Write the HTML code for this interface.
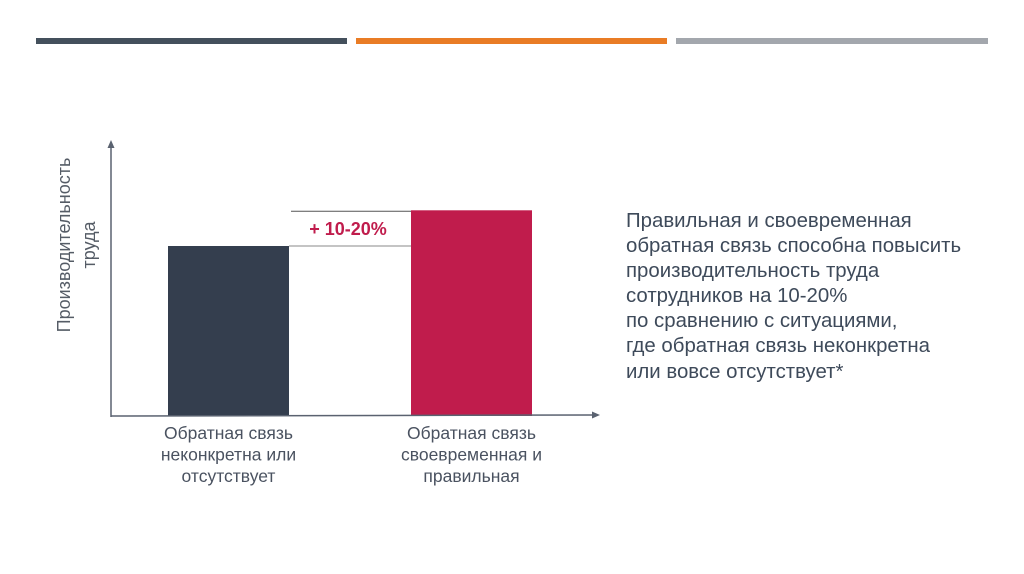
<!DOCTYPE html>
<html><head><meta charset="utf-8"><style>
body{margin:0;width:1024px;height:574px;background:#fff;overflow:hidden;font-family:"Liberation Sans",sans-serif;position:relative}
.stripe{position:absolute;top:38px;height:6px}
.side{position:absolute;left:626px;top:209px;font-size:20.4px;line-height:25.1px;color:#3e4a5a}
</style></head><body>
<div class="stripe" style="left:36px;width:311px;background:#44505c"></div>
<div class="stripe" style="left:356px;width:311px;background:#e97c25"></div>
<div class="stripe" style="left:676px;width:312px;background:#a3a7ad"></div>
<svg id="chart" width="1024" height="574" style="position:absolute;left:0;top:0">
<g id="marks"></g>
<text transform="translate(70,245) rotate(-90)" text-anchor="middle" font-size="18" fill="#555c66" font-family="Liberation Sans, sans-serif"><tspan x="0" dy="0">Производительность</tspan><tspan x="0" dy="25">труда</tspan></text>
</svg>
<div class="side">Правильная и своевременная<br>обратная связь способна повысить<br>производительность труда<br>сотрудников на 10-20%<br>по сравнению с ситуациями,<br>где обратная связь неконкретна<br>или вовсе отсутствует*</div>
<script>
const categories=["Обратная связь|неконкретна или|отсутствует","Обратная связь|своевременная и|правильная"];
const values=[100,121];
const colors=["#343e4e","#c01c4c"];
const NS="http://www.w3.org/2000/svg";
const g=document.getElementById('marks');
const base=416,pxPer=1.7,barW=121,starts=[168,411];
const y=v=>base-v*pxPer;
function el(t,a){const e=document.createElementNS(NS,t);for(const k in a)e.setAttribute(k,a[k]);g.appendChild(e);return e;}
values.forEach((v,i)=>{
 const r=el('rect',{x:starts[i],y:y(v),width:barW,height:v*pxPer,fill:colors[i]});
 
 
 const t=el('text',{x:starts[i]+barW/2,'text-anchor':'middle','font-size':17.5,fill:'#4a5260','font-family':'Liberation Sans, sans-serif'});
 
 
 categories[i].split('|').forEach((s,j)=>{const ts=document.createElementNS(NS,'tspan');ts.setAttribute('x',starts[i]+barW/2);ts.setAttribute('y',439+j*21.5);ts.textContent=s;t.appendChild(ts);});
});
const l1=el('line',{x1:291,x2:411,y1:y(values[1])+1,y2:y(values[1])+1,stroke:'#555',"stroke-width":1});


const l2=el('line',{x1:289,x2:411,y1:y(values[0]),y2:y(values[0]),stroke:'#888',"stroke-width":1});


const dt=el('text',{x:348,y:(y(values[0])+y(values[1]))/2+7,'text-anchor':'middle','font-size':18,'font-weight':'bold',fill:'#c01c4c','font-family':'Liberation Sans, sans-serif'});
dt.textContent='+ 10-20%';


const ya=el('line',{x1:111,x2:111,y1:146,y2:417,stroke:'#5a6270','stroke-width':1.5});


const yh=el('polygon',{points:'111,140 107.5,148 114.5,148',fill:'#5a6270'});


const xa=el('line',{x1:111,x2:593,y1:416,y2:415,stroke:'#5a6270','stroke-width':1.5});


const xh=el('polygon',{points:'600,415 592,411.5 592,418.5',fill:'#5a6270'});


</script>
</body></html>
